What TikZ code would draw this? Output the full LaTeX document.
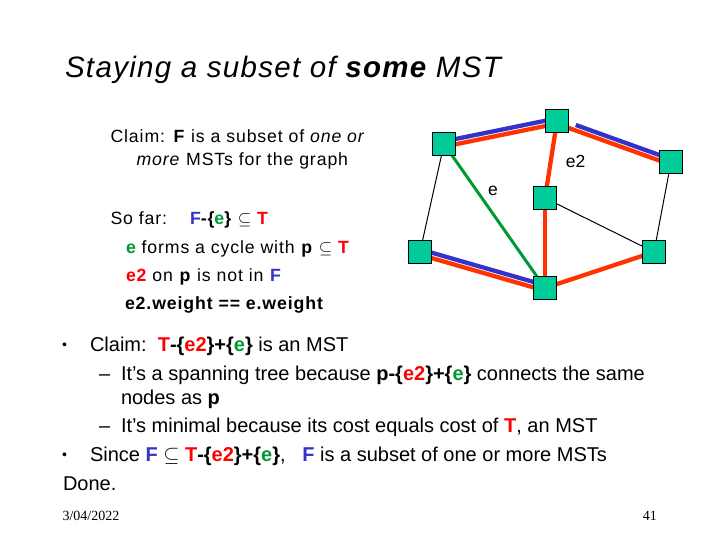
\documentclass[tikz,border=0pt]{standalone}
\usepackage{fontspec}
\setmainfont{Liberation Sans}
\newfontfamily\datefont{Liberation Serif}
\newfontfamily\titlefont[LetterSpace=4.5]{Liberation Sans}
\newfontfamily\upperfont[LetterSpace=5]{Liberation Sans}
\usetikzlibrary{calc}
\definecolor{tred}{RGB}{255,0,0}
\definecolor{tblue}{RGB}{51,51,204}
\definecolor{tgreen}{RGB}{0,153,51}
\definecolor{ered}{RGB}{255,51,0}
\definecolor{eblue}{RGB}{51,51,204}
\definecolor{egreen}{RGB}{0,153,51}
\definecolor{nodefill}{RGB}{0,204,153}
\tikzset{
  txt/.style={anchor=base west, inner sep=0pt, outer sep=0pt},
  uppertxt/.style={txt, font=\upperfont\fontsize{17.7}{21}\selectfont},
  bodytxt/.style={txt, font=\fontsize{20}{24}\selectfont},
  bulletmark/.style={txt, font=\fontsize{14}{16}\selectfont},
  vtx/.style={draw=black, line width=1.3pt, fill=nodefill, minimum size=23pt, inner sep=0pt},
  thinedge/.style={draw=black, line width=1pt},
  rededge/.style={draw=ered, line width=4.3pt},
  blueedge/.style={draw=eblue, line width=4.3pt},
  greenedge/.style={draw=egreen, line width=3pt},
  elabel/.style={inner sep=0pt, font=\fontsize{17.5}{21}\selectfont}
}
\begin{document}
\begin{tikzpicture}[x=1pt,y=-1pt]
\useasboundingbox (0,0) rectangle (720,540);
% title
\node[txt, font=\titlefont\fontsize{29.5}{34}\selectfont\itshape] (title) at (65,78) {Staying a subset of \textbf{some} MST};
% upper block
\node[uppertxt] (c1) at (110.5,143) {Claim: \textbf{F} is a subset of \textit{one or}};
\node[uppertxt] (c2) at (136.5,166) {\textit{more} MSTs for the graph};
\node[uppertxt] (c3) at (110.5,225) {So far:};
\node[uppertxt] (c3b) at (190,225) {\textbf{{\color{tblue}F}-\{{\color{tgreen}e}\}} $\subseteq$ \textbf{\color{tred}T}};
\node[uppertxt] (c4) at (126,253.3) {\textbf{\color{tgreen}e} forms a cycle with \textbf{p} $\subseteq$ \textbf{\color{tred}T}};
\node[uppertxt] (c5) at (126,281.7) {\textbf{\color{tred}e2} on \textbf{p} is not in \textbf{\color{tblue}F}};
\node[uppertxt] (c6) at (125,309.3) {\textbf{e2.weight == e.weight}};
% bullets
\node[bulletmark] (b1m) at (62,349.5) {•};
\node[bodytxt] (b1) at (90,351.7) {Claim:\ \ \textbf{{\color{tred}T}-\{{\color{tred}e2}\}+\{{\color{tgreen}e}\}} is an MST};
\node[bodytxt] (d1m) at (99,380) {–};
\node[bodytxt] (d1) at (121,380) {It’s a spanning tree because \textbf{p-\{{\color{tred}e2}\}+\{{\color{tgreen}e}\}} connects the same};
\node[bodytxt] (d1b) at (121,404.5) {nodes as \textbf{p}};
\node[bodytxt] (d2m) at (99,432.5) {–};
\node[bodytxt] (d2) at (121,432.5) {It’s minimal because its cost equals cost of \textbf{\color{tred}T}, an MST};
\node[bulletmark] (b2m) at (62,459.5) {•};
\node[bodytxt] (b2) at (90,461.7) {Since \textbf{\color{tblue}F} $\subseteq$ \textbf{{\color{tred}T}-\{{\color{tred}e2}\}+\{{\color{tgreen}e}\}},\ \ \ \textbf{\color{tblue}F} is a subset of one or more MSTs};
\node[bodytxt] (done) at (63,490) {Done.};
\node[txt, font=\datefont\fontsize{14}{16}\selectfont] (date) at (62.5,520) {3/04/2022};
\node[anchor=base east, inner sep=0pt, font=\datefont\fontsize{14}{16}\selectfont] (page) at (657,520) {41};
% graph vertices (coordinates first)
\coordinate (A) at (444,144);
\coordinate (B) at (557,121);
\coordinate (C) at (671,162);
\coordinate (D) at (545,198);
\coordinate (E) at (420,252);
\coordinate (G) at (545,288);
\coordinate (H) at (654,252);
% edges
\draw[thinedge] (A) -- (E);
\draw[thinedge] (D) -- (H);
\draw[thinedge] (C) -- (H);
\draw[greenedge] (A) -- (G);
\draw[rededge] (B) -- (D);
\draw[rededge] (D) -- (G);
\draw[rededge] (G) -- (H);
\draw[blueedge] ($(A)!2.6pt!90:(B)$) -- ($(B)!2.6pt!-90:(A)$);
\draw[rededge] ($(A)!2.6pt!-90:(B)$) -- ($(B)!2.6pt!90:(A)$);
\draw[blueedge, shorten <=19pt] ($(B)!2.6pt!90:(C)$) -- ($(C)!2.6pt!-90:(B)$);
\draw[rededge] ($(B)!2.6pt!-90:(C)$) -- ($(C)!2.6pt!90:(B)$);
\draw[blueedge] ($(E)!2.6pt!90:(G)$) -- ($(G)!2.6pt!-90:(E)$);
\draw[rededge] ($(E)!2.6pt!-90:(G)$) -- ($(G)!2.6pt!90:(E)$);
% vertex squares
\node[vtx] (nA) at (A) {};
\node[vtx] (nB) at (B) {};
\node[vtx] (nC) at (C) {};
\node[vtx] (nD) at (D) {};
\node[vtx] (nE) at (E) {};
\node[vtx] (nG) at (G) {};
\node[vtx] (nH) at (H) {};
% edge labels
\node[elabel] (le) at (493,191) {e};
\node[elabel] (le2) at (575.5,161) {e2};
\end{tikzpicture}
\end{document}
